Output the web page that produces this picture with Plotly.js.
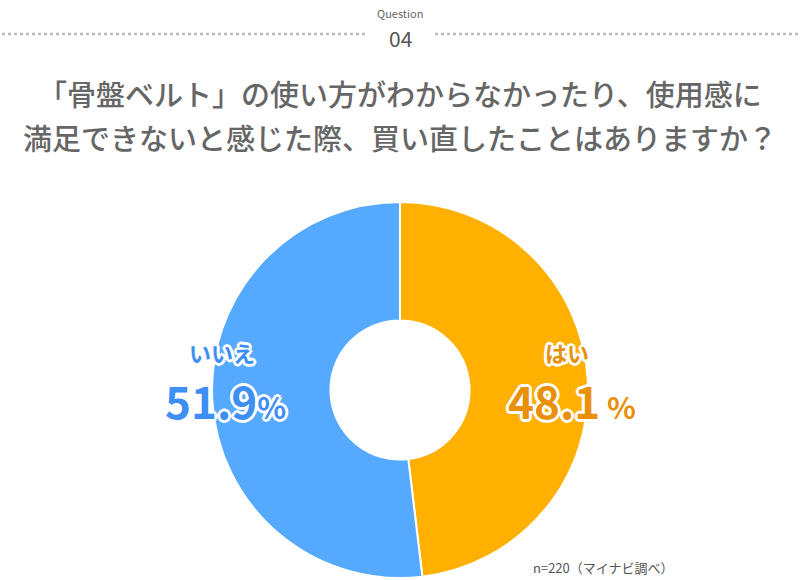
<!DOCTYPE html>
<html><head><meta charset="utf-8">
<script src="https://cdn.plot.ly/plotly-3.0.1.min.js"></script>
<style>html,body{margin:0;padding:0;background:#fff;}</style>
</head><body>
<div id="chart" style="width:800px;height:580px;"></div>
<script>
const labels = ["はい", "いいえ"];
const values = [48.1, 51.9];
const colors = ["#FFB000", "#55AAFF"];
const textColors = ["#E8900A", "#3D8EF5"];
const titleLines = ["「骨盤ベルト」の使い方がわからなかったり、使用感に", "満足できないと感じた際、買い直したことはありますか？"];
const questionNo = "04";
const note = "n=220（マイナビ調べ）";

const outline = "2px 0 0 #fff, -2px 0 0 #fff, 0 2px 0 #fff, 0 -2px 0 #fff, 2px 2px 0 #fff, -2px -2px 0 #fff, 2px -2px 0 #fff, -2px 2px 0 #fff, 3px 0 0 #fff, -3px 0 0 #fff, 0 3px 0 #fff, 0 -3px 0 #fff";
const ff = "Noto Sans CJK JP, Noto Sans, sans-serif";

const data = [{
  type: "pie",
  labels: labels,
  values: values,
  sort: false,
  direction: "clockwise",
  rotation: 0,
  hole: 0.37,
  marker: {colors: colors, line: {color: "#fff", width: 2}},
  textinfo: "none",
  hoverinfo: "label+percent",
  showlegend: false,
  domain: {x: [0.265, 0.735], y: [0.0035, 0.6517]}
}];

const annotations = [
  {text: "Question", x: 400, y: 13, font: {size: 11, color: "#666"}},
  {text: questionNo, x: 400, y: 38, font: {size: 21, color: "#555"}},
  {text: titleLines[0], x: 400, y: 93, font: {size: 29, color: "#666", weight: 500}},
  {text: titleLines[1], x: 400, y: 137, font: {size: 29, color: "#666", weight: 500}},
  {text: labels[1], x: 222, y: 352, font: {size: 22, color: textColors[1], weight: "bold", shadow: outline}},
  {text: values[1].toFixed(1) + "<span style='font-size:30px'>%</span>", x: 225, y: 400, font: {size: 44, color: textColors[1], weight: "bold", shadow: outline}},
  {text: labels[0], x: 567, y: 352, font: {size: 22, color: textColors[0], weight: "bold", shadow: outline}},
  {text: values[0].toFixed(1) + "<span style='font-size:30px'> %</span>", x: 572, y: 400, font: {size: 44, color: textColors[0], weight: "bold", shadow: outline}},
  {text: note, x: 603, y: 567, font: {size: 13, color: "#555"}}
].map(a => Object.assign({xref: "x", yref: "y", showarrow: false, xanchor: "center", yanchor: "middle"}, a, {font: Object.assign({family: ff}, a.font)}));

const layout = {
  width: 800, height: 580,
  margin: {l: 0, r: 0, t: 0, b: 0},
  paper_bgcolor: "#fff", plot_bgcolor: "rgba(0,0,0,0)",
  xaxis: {range: [0, 800], visible: false, fixedrange: true},
  yaxis: {range: [580, 0], visible: false, fixedrange: true},
  annotations: annotations,
  shapes: [
    {type: "line", xref: "x", yref: "y", x0: 2, x1: 365, y0: 34, y1: 34, line: {color: "#bbb", width: 2.5, dash: "dot"}},
    {type: "line", xref: "x", yref: "y", x0: 435, x1: 798, y0: 34, y1: 34, line: {color: "#bbb", width: 2.5, dash: "dot"}}
  ]
};
Plotly.newPlot("chart", data, layout, {displayModeBar: false, staticPlot: true});
</script>
</body></html>
